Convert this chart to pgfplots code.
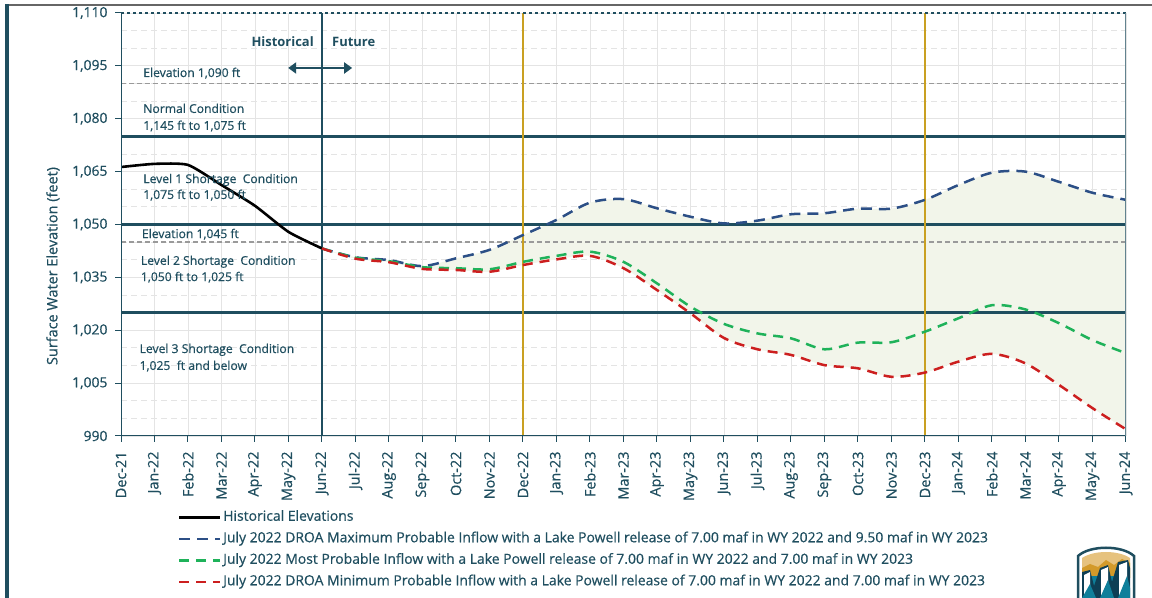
\documentclass[border=0pt]{standalone}
\usepackage{fontspec}
\setmainfont{Open Sans}[FakeBold=0.5, BoldFont={Open Sans Bold}, BoldFeatures={FakeBold=0}]
\usepackage{pgfplots}
\pgfplotsset{compat=1.18}
\usepgfplotslibrary{fillbetween}
\usetikzlibrary{arrows.meta}
\definecolor{dteal}{HTML}{1F4E5F}
\definecolor{gold}{HTML}{C9A022}
\definecolor{sblue}{HTML}{2C4F86}
\definecolor{sgreen}{HTML}{1FB25A}
\definecolor{sred}{HTML}{CC1F1F}
\definecolor{fillc}{HTML}{F2F5EA}
\definecolor{refgray}{HTML}{9A9A9A}
\definecolor{gridc}{HTML}{E4E4E4}
\definecolor{lgold}{HTML}{E6C27E}
\definecolor{mgold}{HTML}{D39A2A}
\definecolor{lblue}{HTML}{0F7F9A}
\definecolor{navy}{HTML}{0E3F55}
\begin{document}
\begin{tikzpicture}
\begin{axis}[
  at={(121bp,162bp)}, anchor=south west,
  width=1005bp, height=423bp, scale only axis,
  xmin=0, xmax=30, ymin=990, ymax=1110,
  xtick={0,...,30},
  xticklabels={Dec-21,Jan-22,Feb-22,Mar-22,Apr-22,May-22,Jun-22,Jul-22,Aug-22,Sep-22,Oct-22,Nov-22,Dec-22,Jan-23,Feb-23,Mar-23,Apr-23,May-23,Jun-23,Jul-23,Aug-23,Sep-23,Oct-23,Nov-23,Dec-23,Jan-24,Feb-24,Mar-24,Apr-24,May-24,Jun-24},
  ytick={990,1005,...,1110},
  minor y tick num=2,
  xmajorgrids, ymajorgrids, yminorgrids,
  major grid style={color=gridc, line width=0.9bp},
  minor grid style={color=gridc, line width=0.9bp, dash pattern=on 6bp off 4bp},
  axis line style={draw=none},
  tick pos=left, tick align=outside,
  major tick length=6bp, minor tick length=0bp,
  tick style={dteal, line width=1bp},
  /pgf/number format/.cd, 1000 sep={,}, assume math mode=true,
  /pgfplots/.cd,
  every tick label/.append style={text=dteal},
  y tick label style={xshift=-4bp, font=\fontsize{14}{15}\selectfont},
  x tick label style={yshift=-6bp, rotate=90, anchor=east, font=\fontsize{14.5}{15}\selectfont},
  legend style={at={(0.0537,-0.168)}, anchor=north west, draw=none, fill=none,
    font=\fontsize{14}{15}\selectfont, text=dteal, row sep=5.5bp,
    nodes={inner sep=1.5bp, text height=10bp, text depth=3bp}},
  legend cell align=left,
  legend image code/.code={\draw[#1] (0bp,0bp) -- (41bp,0bp);},
]
% shaded range
\addplot[name path=maxp, draw=none, smooth, tension=0.5, forget plot] coordinates {
(6,1043.2) (7,1040.7) (8,1039.9) (9,1038.2) (10,1040.4) (11,1042.8) (12,1047.0) (13,1051.3) (14,1056.2) (15,1057.2) (16,1054.6) (17,1052.2) (18,1050.3) (19,1051.1) (20,1052.9) (21,1053.2) (22,1054.5) (23,1054.5) (24,1057.0) (25,1061.2) (26,1064.7) (27,1065.0) (28,1062.1) (29,1059.0) (30,1057.0)};
\addplot[name path=minp, draw=none, smooth, tension=0.5, forget plot] coordinates {
(6,1043.2) (7,1040.3) (8,1039.3) (9,1037.4) (10,1037.1) (11,1036.6) (12,1038.5) (13,1040.1) (14,1041.1) (15,1037.6) (16,1031.4) (17,1024.8) (18,1017.8) (19,1014.6) (20,1013.0) (21,1010.1) (22,1009.2) (23,1006.8) (24,1008.0) (25,1011.1) (26,1013.3) (27,1010.6) (28,1004.5) (29,997.9) (30,991.9)};
\addplot[fill=fillc, draw=none, forget plot] fill between[of=maxp and minp];
% reference lines
\addplot[refgray, line width=1.8bp, dash pattern=on 5bp off 3bp, forget plot] coordinates {(0,1090) (30,1090)};
\addplot[refgray, line width=1.8bp, dash pattern=on 5bp off 3bp, forget plot] coordinates {(0,1045) (30,1045)};
\addplot[dteal, line width=2.5bp, forget plot] coordinates {(0,1075) (30,1075)};
\addplot[dteal, line width=2.5bp, forget plot] coordinates {(0,1050) (30,1050)};
\addplot[dteal, line width=2.5bp, forget plot] coordinates {(0,1025) (30,1025)};
\addplot[dteal, line width=2.5bp, forget plot] coordinates {(6,990) (6,1110)};
\addplot[gold, line width=2.5bp, forget plot] coordinates {(12,990) (12,1110)};
\addplot[gold, line width=2.5bp, forget plot] coordinates {(24,990) (24,1110)};
% series
\addplot[black, line width=2.6bp, smooth, tension=0.35] coordinates {
(0,1066.3) (1,1067.2) (2,1066.9) (3,1061.2) (4,1055.3) (5,1047.9) (6,1043.2)};
\addlegendentry{Historical Elevations}
\addplot[sblue, line width=2.5bp, dash pattern=on 11bp off 7bp, smooth, tension=0.5] coordinates {
(6,1043.2) (7,1040.7) (8,1039.9) (9,1038.2) (10,1040.4) (11,1042.8) (12,1047.0) (13,1051.3) (14,1056.2) (15,1057.2) (16,1054.6) (17,1052.2) (18,1050.3) (19,1051.1) (20,1052.9) (21,1053.2) (22,1054.5) (23,1054.5) (24,1057.0) (25,1061.2) (26,1064.7) (27,1065.0) (28,1062.1) (29,1059.0) (30,1057.0)};
\addlegendentry{July 2022 DROA Maximum Probable Inflow with a Lake Powell release of 7.00 maf in WY 2022 and 9.50 maf in WY 2023}
\addplot[sgreen, line width=2.5bp, dash pattern=on 10bp off 7bp, smooth, tension=0.5] coordinates {
(6,1043.2) (7,1040.6) (8,1039.6) (9,1037.9) (10,1037.6) (11,1037.3) (12,1039.4) (13,1041.1) (14,1042.3) (15,1039.4) (16,1033.3) (17,1026.7) (18,1021.8) (19,1019.1) (20,1017.7) (21,1014.6) (22,1016.5) (23,1016.6) (24,1019.6) (25,1023.4) (26,1027.1) (27,1025.9) (28,1022.0) (29,1017.2) (30,1013.5)};
\addlegendentry{July 2022 Most Probable Inflow with a Lake Powell release of 7.00 maf in WY 2022 and 7.00 maf in WY 2023}
\addplot[sred, line width=2.5bp, dash pattern=on 10bp off 7bp, smooth, tension=0.5] coordinates {
(6,1043.2) (7,1040.3) (8,1039.3) (9,1037.4) (10,1037.1) (11,1036.6) (12,1038.5) (13,1040.1) (14,1041.1) (15,1037.6) (16,1031.4) (17,1024.8) (18,1017.8) (19,1014.6) (20,1013.0) (21,1010.1) (22,1009.2) (23,1006.8) (24,1008.0) (25,1011.1) (26,1013.3) (27,1010.6) (28,1004.5) (29,997.9) (30,991.9)};
\addlegendentry{July 2022 DROA Minimum Probable Inflow with a Lake Powell release of 7.00 maf in WY 2022 and 7.00 maf in WY 2023}
% frame
\draw[dteal, line width=2bp, dash pattern=on 3bp off 3bp] (rel axis cs:0,1) -- (rel axis cs:1,1);
\draw[dteal, line width=2.5bp] (rel axis cs:0,1) -- (rel axis cs:0,0) -- (rel axis cs:1,0);
\draw[dteal!70, line width=2bp] (rel axis cs:1,0) -- (rel axis cs:1,1);
% annotations
\begin{scope}[every node/.style={text=dteal, font=\fontsize{12.2}{13}\selectfont, anchor=west, inner sep=0pt, text height=8.5bp, text depth=2.5bp}]
\node at (axis cs:0.66,1092.7) {Elevation 1,090 ft};
\node at (axis cs:0.66,1082.5) {Normal Condition};
\node at (axis cs:0.66,1077.7) {1,145 ft to 1,075 ft};
\node at (axis cs:0.66,1062.6) {Level 1 Shortage\ \ Condition};
\node at (axis cs:0.66,1058.1) {1,075 ft to 1,050 ft};
\node at (axis cs:0.62,1047.0) {Elevation 1,045 ft};
\node at (axis cs:0.59,1039.4) {Level 2 Shortage\ \ Condition};
\node at (axis cs:0.59,1034.8) {1,050 ft to 1,025 ft};
\node at (axis cs:0.55,1014.4) {Level 3 Shortage\ \ Condition};
\node at (axis cs:0.55,1009.6) {1,025\ \ ft and below};
\end{scope}
\node[text=dteal, font=\bfseries\fontsize{13}{14}\selectfont, anchor=east, inner sep=0pt] at (axis cs:5.76,1101.8) {Historical};
\node[text=dteal, font=\bfseries\fontsize{13}{14}\selectfont, anchor=west, inner sep=0pt] at (axis cs:6.3,1101.8) {Future};
\draw[dteal, line width=2bp, {Triangle[length=8bp,width=11bp]}-{Triangle[length=8bp,width=11bp]}] (axis cs:4.99,1094.4) -- (axis cs:6.9,1094.4);
\end{axis}
% y label
\node[text=dteal, font=\fontsize{14.5}{15}\selectfont, rotate=90] at (53bp,332bp) {Surface Water Elevation (feet)};
% slide frame
\draw[gray!80!black, line width=2bp] (5bp,593bp) -- (1152bp,593bp);
\draw[dteal, line width=3.5bp] (7bp,0bp) -- (7bp,594bp);
% logo
\filldraw[fill=white, draw=dteal, line width=2.5bp] (1078bp,0bp) -- (1078bp,42bp) .. controls (1090bp,53bp) and (1122bp,53bp) .. (1134bp,42bp) -- (1134bp,0bp);
\fill[lgold] (1082bp,20bp) -- (1082bp,40bp) .. controls (1094bp,48bp) and (1118bp,48bp) .. (1130bp,40bp) -- (1130bp,20bp) -- cycle;
\fill[mgold] (1082bp,20bp) -- (1082bp,30bp) -- (1090bp,34bp) -- (1098bp,31bp) -- (1106bp,38bp) -- (1114bp,33bp) -- (1122bp,39bp) -- (1130bp,35bp) -- (1130bp,20bp) -- cycle;
\fill[lblue] (1082bp,0bp) rectangle (1130bp,22bp);
\fill[navy] (1082bp,0bp) -- (1082bp,26bp) -- (1090bp,28bp) -- (1094bp,12bp) -- (1100bp,30bp) -- (1108bp,33bp) -- (1112bp,16bp) -- (1118bp,36bp) -- (1128bp,38bp) -- (1130bp,30bp) -- (1130bp,0bp) -- cycle;
\fill[white] (1084bp,0bp) -- (1084bp,23bp) -- (1090bp,26bp) -- (1090bp,0bp) -- cycle;
\fill[white] (1101bp,0bp) -- (1101bp,28bp) -- (1108bp,31bp) -- (1108bp,0bp) -- cycle;
\fill[white] (1119bp,0bp) -- (1119bp,33bp) -- (1127bp,36bp) -- (1127bp,0bp) -- cycle;
\fill[lblue] (1082bp,0bp) -- (1090bp,14bp) -- (1096bp,0bp) -- cycle;
\fill[lblue] (1100bp,0bp) -- (1108bp,18bp) -- (1114bp,0bp) -- cycle;
\fill[lblue] (1118bp,0bp) -- (1127bp,22bp) -- (1130bp,10bp) -- (1130bp,0bp) -- cycle;
\pgfresetboundingbox
\path (0,0) rectangle (1152bp,598bp);
\end{tikzpicture}
\end{document}
